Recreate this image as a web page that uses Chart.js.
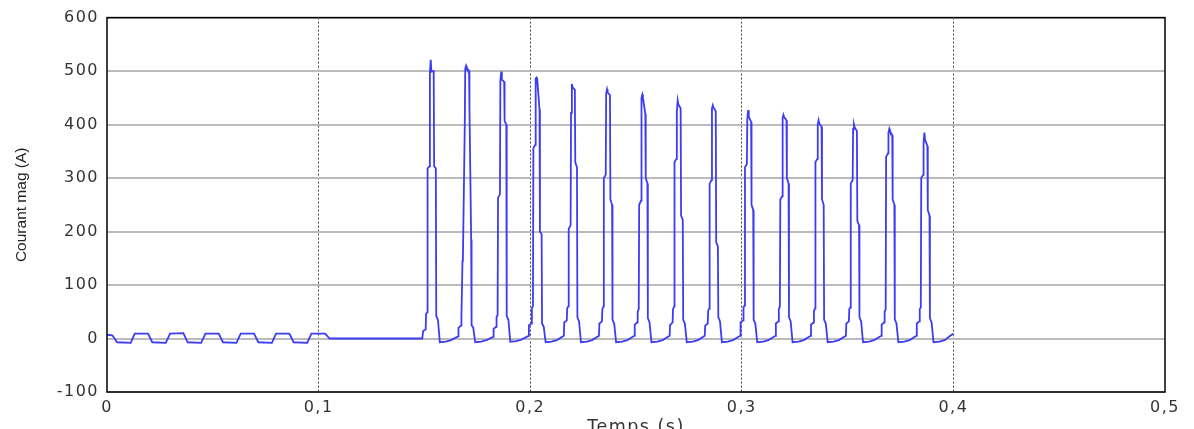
<!DOCTYPE html>
<html>
<head>
<meta charset="utf-8">
<title>Courant mag</title>
<script src="https://cdn.jsdelivr.net/npm/chart.js@4.4.1/dist/chart.umd.min.js"></script>
<style>
  html, body { margin:0; padding:0; background:#fff; overflow:hidden; }
  #wrap { position:relative; width:1194px; height:445px; }
</style>
</head>
<body>
<div id="wrap"><canvas id="magChart"></canvas></div>
<script>
// ── DATA ──────────────────────────────────────────────────────────────────────
const xTickLabels = ['0', '0,1', '0,2', '0,3', '0,4', '0,5'];

// before the inrush: small 60 Hz magnetising current, then zero
const waveT = [0, 0.0025, 0.0048, 0.0112, 0.0131, 0.0194, 0.0214, 0.0278, 0.0298, 0.0361,
               0.0381, 0.0445, 0.0465, 0.0528, 0.0548, 0.0612, 0.0632, 0.0695, 0.0715, 0.0779,
               0.0799, 0.0862, 0.0882, 0.0946, 0.0966, 0.1031, 0.1052, 0.1490];
const waveI = [7, 6, -7, -8, 9, 9, -7, -8, 9, 10,
               -7, -8, 9, 9, -7, -8, 9, 9, -7, -8,
               9, 9, -7, -8, 9, 9, 0, 0];

// inrush pulses, one row per pulse
const pulseT = [
  [.1492,.1494,.1506,.1508,.1513,.1515,.1524,.1526,.1530,.1533,.1544,.1546,.1554,.1556,.1564,.1573,.1601,.1626],
  [.1659,.1661,.1673,.1675,.1680,.1682,.1691,.1693,.1697,.1700,.1711,.1713,.1721,.1723,.1731,.1740,.1768,.1793],
  [.1825,.1827,.1839,.1841,.1846,.1848,.1857,.1859,.1863,.1866,.1877,.1879,.1887,.1889,.1897,.1906,.1934,.1959],
  [.1992,.1994,.2006,.2008,.2013,.2015,.2024,.2026,.2030,.2033,.2044,.2046,.2054,.2056,.2064,.2073,.2101,.2126],
  [.2159,.2161,.2173,.2175,.2180,.2182,.2191,.2193,.2197,.2200,.2211,.2213,.2221,.2223,.2231,.2240,.2268,.2293],
  [.2325,.2327,.2339,.2341,.2346,.2348,.2357,.2359,.2363,.2366,.2377,.2379,.2387,.2389,.2397,.2406,.2434,.2459],
  [.2492,.2494,.2506,.2508,.2513,.2515,.2524,.2526,.2530,.2533,.2544,.2546,.2554,.2556,.2564,.2573,.2601,.2626],
  [.2659,.2661,.2673,.2675,.2680,.2682,.2691,.2693,.2697,.2700,.2711,.2713,.2721,.2723,.2731,.2740,.2768,.2793],
  [.2825,.2827,.2839,.2841,.2846,.2848,.2857,.2859,.2863,.2866,.2877,.2879,.2887,.2889,.2897,.2906,.2934,.2959],
  [.2992,.2994,.3006,.3008,.3013,.3015,.3024,.3026,.3030,.3033,.3044,.3046,.3054,.3056,.3064,.3073,.3101,.3126],
  [.3159,.3161,.3173,.3175,.3180,.3182,.3191,.3193,.3197,.3200,.3211,.3213,.3221,.3223,.3231,.3240,.3268,.3293],
  [.3325,.3327,.3339,.3341,.3346,.3348,.3357,.3359,.3363,.3366,.3377,.3379,.3387,.3389,.3397,.3406,.3434,.3459],
  [.3492,.3494,.3506,.3508,.3513,.3515,.3524,.3526,.3530,.3533,.3544,.3546,.3554,.3556,.3564,.3573,.3601,.3626],
  [.3659,.3661,.3673,.3675,.3680,.3682,.3691,.3693,.3697,.3700,.3711,.3713,.3721,.3723,.3731,.3740,.3768,.3793],
  [.3825,.3827,.3839,.3841,.3846,.3848,.3857,.3859,.3863,.3866,.3877,.3879,.3887,.3889,.3897,.3906,.3934,.3959,.3985,.4000]
];
const pulseI = [
  [0, 14, 17, 46, 49, 318, 322, 497, 521, 499, 500, 322, 318, 42, 35, -7, -6, -3],
  [4, 20, 24, 40, 145, 150, 405, 505, 510, 506, 500, 430, 185, 25, 20, -7, -6, -3],
  [3, 18, 22, 40, 44, 263, 270, 482, 499, 484, 480, 407, 400, 42, 35, -6, -5, -2],
  [5, 25, 28, 57, 60, 356, 362, 486, 488, 486, 428, 200, 195, 28, 22, -7, -6, -3],
  [5, 30, 34, 57, 60, 205, 212, 422, 476, 470, 465, 330, 320, 40, 32, -7, -6, -3],
  [5, 28, 32, 55, 60, 300, 306, 458, 466, 460, 455, 260, 250, 35, 28, -7, -6, -3],
  [5, 26, 30, 50, 55, 250, 258, 450, 456, 450, 420, 300, 290, 38, 30, -7, -6, -3],
  [5, 25, 30, 55, 60, 330, 336, 425, 445, 438, 430, 230, 222, 35, 28, -7, -6, -3],
  [5, 24, 28, 52, 56, 290, 296, 430, 436, 432, 425, 180, 172, 40, 32, -7, -6, -3],
  [5, 30, 34, 58, 62, 320, 326, 410, 427, 415, 405, 250, 240, 35, 28, -7, -6, -3],
  [5, 28, 32, 55, 60, 260, 266, 412, 418, 414, 408, 300, 290, 40, 32, -7, -6, -3],
  [5, 26, 30, 52, 56, 330, 336, 400, 408, 402, 396, 260, 250, 35, 28, -7, -6, -3],
  [5, 28, 32, 55, 58, 290, 296, 392, 400, 395, 388, 220, 212, 40, 32, -7, -6, -3],
  [5, 26, 30, 50, 54, 340, 346, 385, 392, 388, 380, 260, 250, 36, 28, -7, -6, -3],
  [5, 28, 32, 55, 58, 300, 306, 365, 385, 372, 360, 240, 230, 38, 30, -7, -6, -3, 5, 9]
];

// ── BUILD POINTS ──────────────────────────────────────────────────────────────
const points = waveT.map((t, k) => ({ x: t, y: waveI[k] }));
pulseT.forEach((row, p) => row.forEach((t, k) => points.push({ x: t, y: pulseI[p][k] })));

// ── PLUGINS ───────────────────────────────────────────────────────────────────
// matlab style box round the axes, plus wide tick text
const frame = {
  id: 'frame',
  beforeDraw(chart) {
    const y = chart.scales.y;
    if (!y._plainTitle) {
      const orig = y.drawTitle;
      y.drawTitle = function () {
        const c = this.ctx, ls = c.letterSpacing;
        c.letterSpacing = '0px';
        orig.call(this);
        c.letterSpacing = ls;
      };
      y._plainTitle = true;
    }
    chart.ctx.letterSpacing = '1.5px';
  },
  afterDraw(chart) {
    const { ctx, chartArea: a } = chart;
    ctx.save();
    ctx.letterSpacing = '0px';
    ctx.strokeStyle = '#000';
    ctx.lineWidth = 1.5;
    ctx.strokeRect(a.left, a.top, a.right - a.left, a.bottom - a.top);
    ctx.restore();
  }
};

// ── CHART ─────────────────────────────────────────────────────────────────────
const tickFont = { family: 'DejaVu Sans', size: 16 };

new Chart(document.getElementById('magChart'), {
  type: 'line',
  data: {
    datasets: [{
      label: 'Courant mag',
      data: points,
      borderColor: 'rgb(60,60,245)',
      borderWidth: 1.8,
      pointRadius: 0,
      tension: 0,
      fill: false
    }]
  },
  options: {
    responsive: true,
    maintainAspectRatio: false,
    animation: false,
    layout: { padding: { top: 10, right: 29, left: 0, bottom: 0 } },
    plugins: { legend: { display: false }, tooltip: { enabled: false } },
    scales: {
      x: {
        type: 'linear',
        min: 0, max: 0.5,
        afterFit: s => { s.height = 53; },
        ticks: {
          stepSize: 0.1,
          color: '#333',
          font: tickFont,
          padding: 6,
          maxRotation: 0,
          callback: (v, i) => xTickLabels[i]
        },
        grid: {
          drawTicks: false,
          color: c => (c.tick && (c.tick.value === 0 || Math.abs(c.tick.value - 0.5) < 1e-9)) ? 'rgba(0,0,0,0)' : '#444',
          lineWidth: 1
        },
        border: { display: false, dash: [2, 2] },
        title: {
          display: true,
          text: 'Temps (s)',
          color: '#333',
          font: { family: 'DejaVu Sans', size: 17.5 },
          padding: { top: 0, bottom: 7 }
        }
      },
      y: {
        min: -100, max: 600,
        afterFit: s => { s.width = 107; },
        ticks: { stepSize: 100, color: '#333', font: tickFont, padding: 8 },
        grid: { drawTicks: false, color: '#bbbbbb', lineWidth: 2 },
        border: { display: false },
        title: {
          display: true,
          text: 'Courant mag (A)',
          color: '#222',
          font: { family: 'Liberation Sans', size: 15.5 },
          padding: { top: 12, bottom: 0 }
        }
      }
    }
  },
  plugins: [frame]
});
</script>
</body>
</html>
